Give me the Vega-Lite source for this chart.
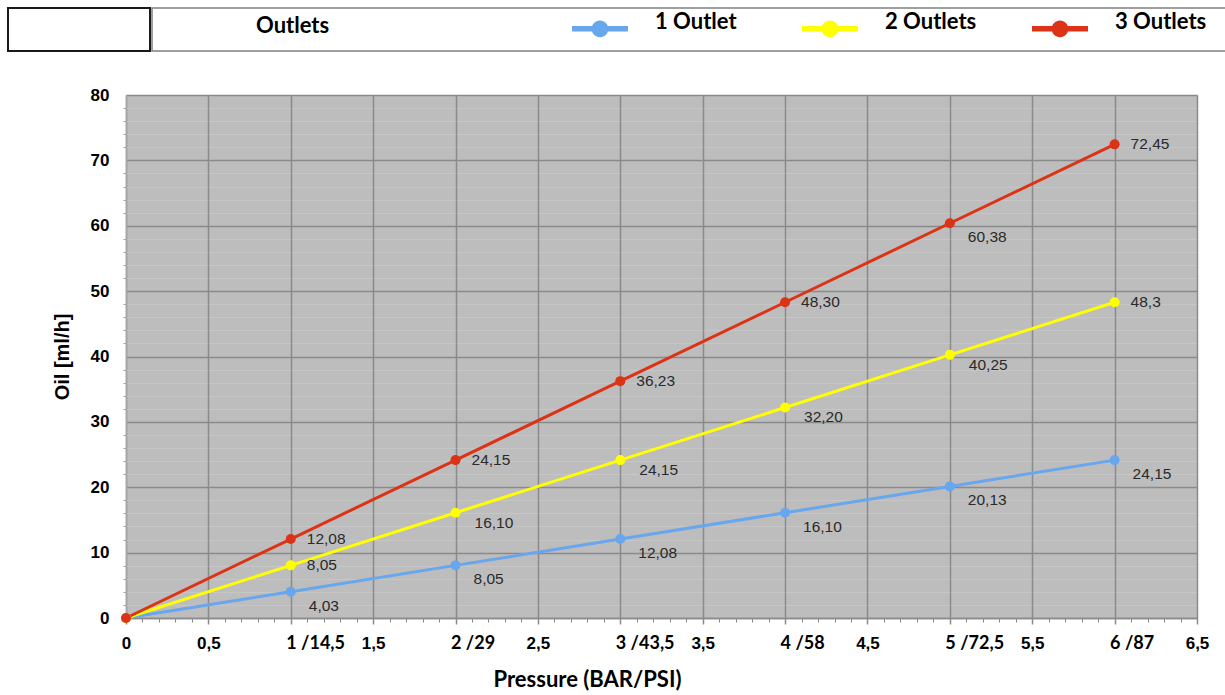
{
  "$schema": "https://vega.github.io/schema/vega-lite/v6.json",
  "background": "white",
  "padding": {"left": 7, "top": 0, "right": 0, "bottom": 0},
  "spacing": 33,
  "config": {"view": {"stroke": null}},
  "vconcat": [
    {
      "spacing": 0,
      "hconcat": [
        {
          "width": 142,
          "height": 43,
          "view": {"stroke": "#1a1a1a", "strokeWidth": 2},
          "data": {"values": []},
          "mark": "text"
        },
        {
          "width": 1075,
          "height": 43,
          "view": {"stroke": "#808080", "strokeWidth": 1.5},
          "data": {"values": []},
          "mark": "text"
        }
      ]
    },
    {
      "spacing": 0,
      "hconcat": [
        {
          "width": 43,
          "height": 523,
          "data": {"values": []},
          "mark": "text"
        },
        {
          "width": 1071,
          "height": 523,
          "view": {"fill": "#BDBDBD", "stroke": "#d4d4d4", "strokeWidth": 1},
          "data": {
            "values": [
              {"series": "1 Outlet", "bar": 0, "oil": 0},
              {"series": "1 Outlet", "bar": 1, "oil": 4.03, "label": "4,03"},
              {"series": "1 Outlet", "bar": 2, "oil": 8.05, "label": "8,05"},
              {"series": "1 Outlet", "bar": 3, "oil": 12.08, "label": "12,08"},
              {"series": "1 Outlet", "bar": 4, "oil": 16.10, "label": "16,10"},
              {"series": "1 Outlet", "bar": 5, "oil": 20.13, "label": "20,13"},
              {"series": "1 Outlet", "bar": 6, "oil": 24.15, "label": "24,15"},
              {"series": "2 Outlets", "bar": 0, "oil": 0},
              {"series": "2 Outlets", "bar": 1, "oil": 8.05, "label": "8,05"},
              {"series": "2 Outlets", "bar": 2, "oil": 16.10, "label": "16,10"},
              {"series": "2 Outlets", "bar": 3, "oil": 24.15, "label": "24,15"},
              {"series": "2 Outlets", "bar": 4, "oil": 32.20, "label": "32,20"},
              {"series": "2 Outlets", "bar": 5, "oil": 40.25, "label": "40,25"},
              {"series": "2 Outlets", "bar": 6, "oil": 48.3, "label": "48,3"},
              {"series": "3 Outlets", "bar": 0, "oil": 0},
              {"series": "3 Outlets", "bar": 1, "oil": 12.08, "label": "12,08"},
              {"series": "3 Outlets", "bar": 2, "oil": 24.15, "label": "24,15"},
              {"series": "3 Outlets", "bar": 3, "oil": 36.23, "label": "36,23"},
              {"series": "3 Outlets", "bar": 4, "oil": 48.30, "label": "48,30"},
              {"series": "3 Outlets", "bar": 5, "oil": 60.38, "label": "60,38"},
              {"series": "3 Outlets", "bar": 6, "oil": 72.45, "label": "72,45"}
            ]
          },
          "resolve": {"axis": {"x": "independent", "y": "independent"}},
          "layer": [
            {
              "mark": {"type": "line", "strokeWidth": 3},
              "encoding": {
                "x": {
                  "field": "bar", "type": "quantitative",
                  "scale": {"domain": [0, 6.5], "nice": false},
                  "axis": {
                    "orient": "bottom",
                    "values": [0,0.1,0.2,0.3,0.4,0.5,0.6,0.7,0.8,0.9,1,1.1,1.2,1.3,1.4,1.5,1.6,1.7,1.8,1.9,2,2.1,2.2,2.3,2.4,2.5,2.6,2.7,2.8,2.9,3,3.1,3.2,3.3,3.4,3.5,3.6,3.7,3.8,3.9,4,4.1,4.2,4.3,4.4,4.5,4.6,4.7,4.8,4.9,5,5.1,5.2,5.3,5.4,5.5,5.6,5.7,5.8,5.9,6,6.1,6.2,6.3,6.4,6.5],
                    "labels": false, "grid": false, "domain": false,
                    "tickSize": 4, "tickColor": "#8a8a8a", "tickWidth": 1, "title": null
                  }
                },
                "y": {
                  "field": "oil", "type": "quantitative",
                  "scale": {"domain": [0, 80], "nice": false},
                  "axis": {
                    "orient": "left",
                    "values": [0,2,4,6,8,12,14,16,18,22,24,26,28,32,34,36,38,42,44,46,48,52,54,56,58,62,64,66,68,72,74,76,78],
                    "labels": false, "domain": false,
                    "grid": true, "gridColor": "#ffffff", "gridOpacity": 0.15, "gridWidth": 1,
                    "tickSize": 3, "tickColor": "#a0a0a0", "tickWidth": 1, "title": null
                  }
                },
                "color": {
                  "field": "series", "type": "nominal",
                  "scale": {"domain": ["1 Outlet", "2 Outlets", "3 Outlets"], "range": ["#68A6EE", "#FFFF00", "#DC3316"]},
                  "legend": {
                    "orient": "none", "legendX": 248, "legendY": -7.5,
                    "direction": "horizontal", "columns": 3, "gridAlign": "all", "columnPadding": 55,
                    "title": "Outlets", "titleOrient": "left", "titlePadding": 242,
                    "titleFont": "Lato", "titleFontSize": 22, "titleFontWeight": "bold", "titleColor": "#000000",
                    "titleAnchor": "middle", "titleBaseline": "line-top", "titleLineHeight": 15,
                    "symbolType": "M-1,-0.1H1V0.1H-1Z M0.3,0A0.3,0.3,0,1,1,-0.3,0A0.3,0.3,0,1,1,0.3,0Z",
                    "symbolSize": 3136, "symbolStrokeWidth": 0, "symbolOpacity": 1,
                    "labelFont": "Lato", "labelFontSize": 22, "labelFontWeight": "bold", "labelColor": "#000000",
                    "labelOffset": 27, "labelBaseline": "alphabetic",
                    "encode": {"symbols": {"update": {"fill": {"scale": "color", "field": "value"}, "stroke": {"value": "transparent"}}}}
                  }
                }
              }
            },
            {
              "mark": {"type": "point", "filled": true, "size": 100, "opacity": 1},
              "encoding": {
                "x": {
                  "field": "bar", "type": "quantitative",
                  "axis": {
                    "orient": "bottom",
                    "values": [0,0.5,1,1.5,2,2.5,3,3.5,4,4.5,5,5.5,6,6.5],
                    "labelExpr": "datum.value > 0 && datum.value % 1 == 0 ? datum.value + ' /' + replace(format(datum.value * 14.5, '~f'), '.', ',') : replace(format(datum.value, '~f'), '.', ',')",
                    "labelFont": {"condition": {"test": "datum.value > 0 && datum.value % 1 == 0", "value": "Lato"}, "value": "Liberation Sans"},
                    "labelFontSize": {"condition": {"test": "datum.value > 0 && datum.value % 1 == 0", "value": 18}, "value": 17},
                    "labelAlign": {"condition": {"test": "datum.value > 0 && datum.value % 1 == 0", "value": "left"}, "value": "center"},
                    "labelOffset": {"condition": {"test": "datum.value > 0 && datum.value % 1 == 0", "value": -5}, "value": 0},
                    "labelFontWeight": "bold", "labelColor": "#000000",
                    "labelBaseline": "alphabetic", "labelPadding": 24, "labelOverlap": false, "labelFlush": false,
                    "grid": true, "gridColor": "#8a8a8a", "gridWidth": 1.5,
                    "tickSize": 6, "tickColor": "#8a8a8a", "tickWidth": 1.5,
                    "domain": true, "domainColor": "#8a8a8a", "domainWidth": 1.5,
                    "title": "Pressure (BAR/PSI)", "titleFont": "Lato", "titleFontSize": 22, "titleFontWeight": "bold", "titleColor": "#000000",
                    "titleX": 461, "titleY": 68, "titleBaseline": "alphabetic", "titleAlign": "center"
                  }
                },
                "y": {
                  "field": "oil", "type": "quantitative",
                  "axis": {
                    "orient": "left",
                    "values": [0,10,20,30,40,50,60,70,80],
                    "grid": true, "gridColor": "#8a8a8a", "gridWidth": 1.5,
                    "ticks": false, "domain": true, "domainColor": "#a8a8a8", "domainWidth": 1.5,
                    "labelFont": "Liberation Sans", "labelFontSize": 17, "labelFontWeight": "bold", "labelColor": "#000000",
                    "labelPadding": 17,
                    "title": "Oil [ml/h]", "titleFont": "Liberation Sans", "titleFontSize": 20, "titleFontWeight": "bold", "titleColor": "#000000",
                    "titlePadding": 18
                  }
                },
                "color": {"field": "series", "type": "nominal"}
              }
            },
            {
              "transform": [{"filter": "datum.bar > 0 && ((datum.series == '3 Outlets' && datum.bar != 5) || (datum.series == '2 Outlets' && (datum.bar == 1 || datum.bar == 6)))"}],
              "mark": {"type": "text", "align": "left", "baseline": "middle", "dx": 16, "dy": 0, "font": "Liberation Sans", "fontSize": 15.5, "color": "#2a2a2a"},
              "encoding": {
                "x": {"field": "bar", "type": "quantitative", "axis": null},
                "y": {"field": "oil", "type": "quantitative", "axis": null},
                "text": {"field": "label"}
              }
            },
            {
              "transform": [{"filter": "datum.series == '2 Outlets' && datum.bar >= 2 && datum.bar <= 5"}],
              "mark": {"type": "text", "align": "left", "baseline": "middle", "dx": 19, "dy": 10, "font": "Liberation Sans", "fontSize": 15.5, "color": "#2a2a2a"},
              "encoding": {
                "x": {"field": "bar", "type": "quantitative", "axis": null},
                "y": {"field": "oil", "type": "quantitative", "axis": null},
                "text": {"field": "label"}
              }
            },
            {
              "transform": [{"filter": "datum.bar > 0 && (datum.series == '1 Outlet' || (datum.series == '3 Outlets' && datum.bar == 5))"}],
              "mark": {"type": "text", "align": "left", "baseline": "middle", "dx": 18, "dy": 14, "font": "Liberation Sans", "fontSize": 15.5, "color": "#2a2a2a"},
              "encoding": {
                "x": {"field": "bar", "type": "quantitative", "axis": null},
                "y": {"field": "oil", "type": "quantitative", "axis": null},
                "text": {"field": "label"}
              }
            }
          ]
        }
      ]
    }
  ]
}
